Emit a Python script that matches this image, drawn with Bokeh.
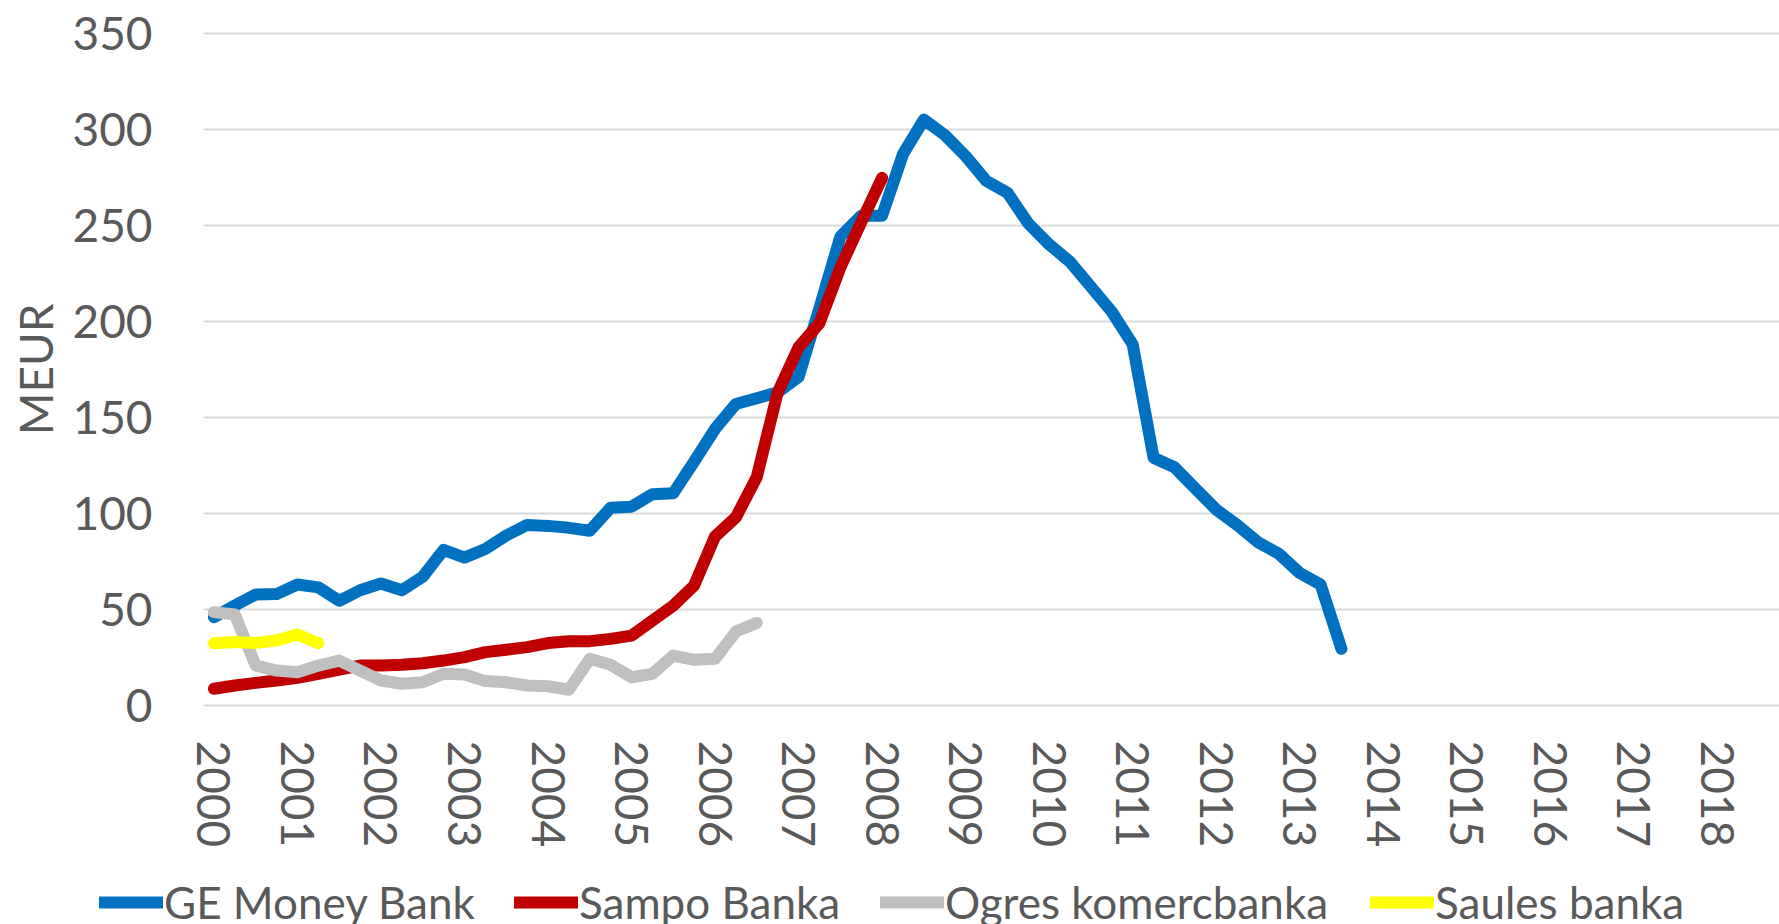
from math import pi
from bokeh.plotting import figure
from bokeh.models import Range1d, FixedTicker, Legend, LegendItem, Label
from bokeh.embed import file_html
from bokeh.resources import INLINE

# Quarterly categories 2000Q1 ... 2018Q4; one label per year (first quarter)
year_labels = ["2000", "2001", "2002", "2003", "2004", "2005", "2006", "2007", "2008",
               "2009", "2010", "2011", "2012", "2013", "2014", "2015", "2016", "2017", "2018"]
quarters_per_year = 4

ge_money = [46, 52, 57.8, 58, 63, 61.5, 54.5, 60, 63.5, 60, 67, 81, 77, 81.5, 88.5, 94,
            93.5, 92.5, 91, 103, 103.5, 110, 110.5, 127, 144, 157, 160, 163, 171, 207,
            244, 255, 255, 287, 305, 297, 286, 273, 267, 251, 240, 231, 218, 205, 188,
            129, 124, 113, 102, 94, 85, 79, 69, 63, 29.5]
sampo = [8.7, 10.4, 11.8, 13, 14.4, 16.5, 18.7, 20.8, 20.8, 21.2, 22, 23.4, 25.2, 27.8,
         29, 30.4, 32.5, 33.5, 33.5, 34.7, 36.4, 44.2, 52, 62.5, 88, 98, 119, 163, 186.5,
         199, 228, 251.6, 274.7]
ogres = [48.6, 47.4, 20.8, 18.2, 17.3, 20.8, 23.4, 18.2, 13, 11.3, 12.1, 16.5, 16.1, 12.7,
         12.1, 10.4, 10, 8.2, 24.3, 21.2, 14.7, 16.5, 26, 23.8, 24.3, 38.5, 43]
saules = [32.4, 33, 32.6, 33.8, 37, 32.4]

series_names = ["GE Money Bank", "Sampo Banka", "Ogres komercbanka", "Saules banka"]
series_values = [ge_money, sampo, ogres, saules]
series_colors = ["#0070C0", "#C00000", "#BFBFBF", "#FFFF00"]

y_ticks = [0, 50, 100, 150, 200, 250, 300, 350]
y_max = 350

FONT = "Lato"
TXT = "#595959"
W, H = 1779, 924

# pixel geometry of the plot area (frame spans the whole canvas; axes are pinned)
PLOT_LEFT, PLOT_TOP, PLOT_BOTTOM = 203, 32.7, 705
PX_PER_Q = 20.88
PX_PER_UNIT = (PLOT_BOTTOM - PLOT_TOP) / y_max

x0 = -0.5 - PLOT_LEFT / PX_PER_Q
x1 = x0 + W / PX_PER_Q
y1 = y_max + PLOT_TOP / PX_PER_UNIT
y0 = -(H - PLOT_BOTTOM) / PX_PER_UNIT

p = figure(width=W, height=H, output_backend="svg", toolbar_location=None,
           x_range=Range1d(x0, x1), y_range=Range1d(y0, y1),
           min_border_left=0, min_border_right=0, min_border_top=0, min_border_bottom=0)
p.outline_line_color = None
p.background_fill_color = "white"
p.border_fill_color = "white"

# axes pinned to the category/value origin
p.yaxis.ticker = FixedTicker(ticks=y_ticks)
p.yaxis.fixed_location = -0.5
xt = [i * quarters_per_year for i in range(len(year_labels))]
p.xaxis.ticker = FixedTicker(ticks=xt)
p.xaxis.fixed_location = 0
p.xaxis.major_label_overrides = {t: lab for t, lab in zip(xt, year_labels)}
p.xaxis.major_label_orientation = "vertical"
for ax in (p.xaxis[0], p.yaxis[0]):
    ax.axis_line_color = None
    ax.major_tick_line_color = None
    ax.minor_tick_line_color = None
    ax.major_tick_out = 0
    ax.major_tick_in = 0
    ax.major_label_text_font = FONT
    ax.major_label_text_font_size = "46px"
    ax.major_label_text_color = TXT
p.yaxis.major_label_standoff = 51
p.xaxis.major_label_standoff = 35

p.xgrid.grid_line_color = None
p.ygrid.ticker = FixedTicker(ticks=y_ticks)
p.ygrid.grid_line_color = "#D9D9D9"
p.ygrid.grid_line_width = 2
p.ygrid.cross_bounds = (-0.5, x1)

renderers = []
for vals, col in zip(series_values, series_colors):
    r = p.line(list(range(len(vals))), vals, line_color=col, line_width=12,
               line_cap="round", line_join="round")
    renderers.append(r)

# y-axis title
p.add_layout(Label(x=-0.5 - (PLOT_LEFT - 35) / PX_PER_Q, y=y_max / 2, text="MEUR", angle=pi / 2,
                   text_align="center", text_baseline="middle", text_font=FONT,
                   text_font_size="46px", text_color=TXT))

# legend entries (one row, below the axis labels)
legend_left_px = [99, 514, 880, 1370]
for name, r, lx in zip(series_names, renderers, legend_left_px):
    lg = Legend(items=[LegendItem(label=name, renderers=[r])], location=(lx, -6),
                orientation="horizontal", padding=0, margin=0, border_line_color=None,
                background_fill_alpha=0, glyph_width=64, glyph_height=56, label_height=56,
                label_standoff=1, label_text_font=FONT, label_text_font_size="44px",
                label_text_color=TXT)
    p.add_layout(lg)

open("out.html", "w").write(file_html(p, INLINE))
